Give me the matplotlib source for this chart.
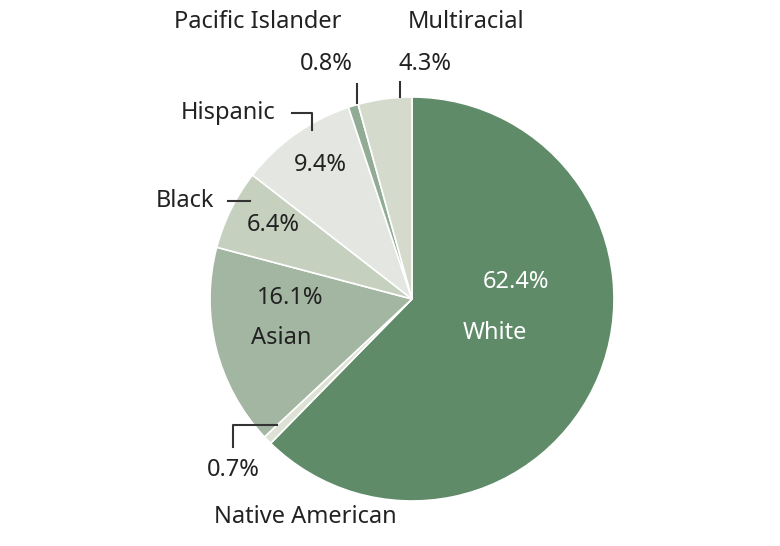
import matplotlib
matplotlib.use("Agg")
import matplotlib.pyplot as plt

groups = ["White", "Native American", "Asian", "Black", "Hispanic", "Pacific Islander", "Multiracial"]
shares = [62.4, 0.7, 16.1, 6.4, 9.4, 0.8, 4.3]
colors = ["#5f8b69", "#dde2d4", "#a3b6a2", "#c6d0bf", "#e4e7e1", "#92ab95", "#d5dbcc"]

H = 546
fig = plt.figure(figsize=(7.8, 5.46), dpi=100)
ax = fig.add_axes([0, 0, 1, 1])
ax.set_xlim(0, 780); ax.set_ylim(0, H); ax.set_aspect("equal"); ax.axis("off")
ax.pie(shares, colors=colors, startangle=90, counterclock=False,
       center=(412, H - 299), radius=202, frame=True,
       wedgeprops=dict(edgecolor="white", linewidth=1.2))
ax.set_xlim(0, 780); ax.set_ylim(0, H); ax.axis("off")

plt.rcParams["font.family"] = ["Noto Sans", "DejaVu Sans"]
dark = "#222222"
def t(x, y, s, bold=False, c=dark):
    ax.text(x, H - y, s, ha="center", va="center", fontsize=17, color=c,
            fontweight="bold" if bold else "normal")

t(258, 22, "Pacific Islander"); t(466, 22, "Multiracial")
t(326, 64, f"{shares[5]}%", True); t(425, 64, f"{shares[6]}%", True)
t(228, 113, "Hispanic"); t(320, 165, f"{shares[4]}%", True)
t(185, 201, "Black"); t(273, 225, f"{shares[3]}%", True)
t(290, 298, f"{shares[2]}%", True); t(281, 338, "Asian")
t(516, 282, f"{shares[0]}%", True, "white"); t(495, 333, "White", c="white")
t(233, 470, f"{shares[1]}%", True); t(305, 517, "Native American")

def line(xs, ys):
    ax.plot(xs, [H - y for y in ys], color="#333333", lw=1.5)
line([357, 357], [84, 103])
line([400, 400], [82, 97])
line([292, 312, 312], [113, 113, 130])
line([228, 250], [201, 201])
line([233, 233, 277], [447, 425, 425])

fig.savefig("out.png", dpi=100)
